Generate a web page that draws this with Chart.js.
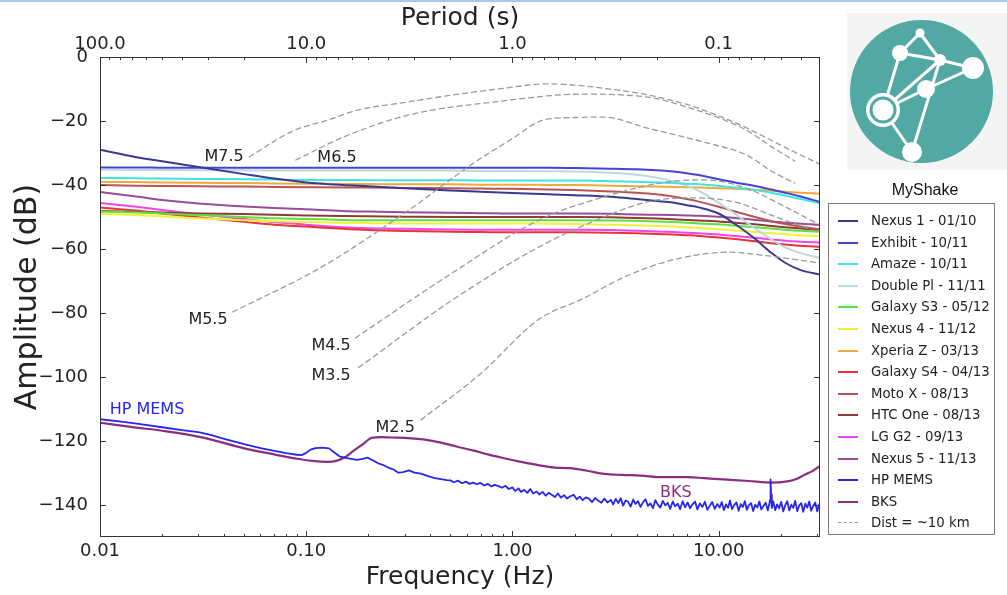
<!DOCTYPE html>
<html>
<head>
<meta charset="utf-8">
<script src="https://cdn.jsdelivr.net/npm/chart.js@4.4.1/dist/chart.umd.min.js"></script>
<style>
html,body{margin:0;padding:0;background:#fff;}
#wrap{position:relative;width:1007px;height:595px;overflow:hidden;background:#fff;}
#topbar{position:absolute;left:0;top:0;width:1007px;height:2px;background:#a8c8ea;}
#chart{position:absolute;left:0;top:0;}
#legend{position:absolute;left:828px;top:203px;width:167px;height:332px;border:1px solid #7a7a7a;box-sizing:border-box;padding-top:6px;font-family:"DejaVu Sans";font-size:13.3px;color:#222;background:#fff;}
.row{height:21.6px;line-height:21.6px;white-space:nowrap;position:relative;}
.row i{position:absolute;left:9px;top:10px;width:20px;height:0;border-top:2px solid;}
.row span{position:absolute;left:42px;top:0;}
#logo{position:absolute;left:846px;top:12px;}
#brand{position:absolute;left:875px;top:181px;width:100px;text-align:center;font-family:"Liberation Sans",Arial,sans-serif;font-size:16px;color:#111;}
</style>
</head>
<body>
<div id="wrap">
  <div id="topbar"></div>
  <canvas id="chart" width="1007" height="595"></canvas>
  <svg id="logo" width="161" height="160" viewBox="846 12 161 160">
    <rect x="847" y="13" width="160" height="157" fill="#f3f4f4"/>
    <circle cx="921.5" cy="91.5" r="71.5" fill="#52a9a3"/>
    <g stroke="#fff" stroke-width="3" fill="none">
      <line x1="920" y1="33" x2="900" y2="53"/>
      <line x1="920" y1="33" x2="940" y2="60"/>
      <line x1="900" y1="53" x2="940" y2="60"/>
      <line x1="940" y1="60" x2="973" y2="68"/>
      <line x1="900" y1="53" x2="883" y2="110"/>
      <line x1="940" y1="60" x2="883" y2="110"/>
      <line x1="940" y1="60" x2="912" y2="152"/>
      <line x1="926" y1="89" x2="973" y2="68"/>
      <line x1="926" y1="89" x2="883" y2="110"/>
      <line x1="883" y1="110" x2="912" y2="152"/>
    </g>
    <g fill="#fff">
      <circle cx="920" cy="33" r="4.5"/>
      <circle cx="900" cy="53" r="8"/>
      <circle cx="940" cy="60" r="6"/>
      <circle cx="973" cy="68" r="11"/>
      <circle cx="926" cy="89" r="9"/>
      <circle cx="912" cy="152" r="10"/>
      <circle cx="883" cy="110" r="17"/>
    </g>
    <circle cx="883" cy="110" r="13.5" fill="#52a9a3"/>
    <circle cx="883" cy="110" r="10.5" fill="#fff"/>
  </svg>
  <div id="brand">MyShake</div>
  <div id="legend"></div>
</div>
<script>
// axis ticks
var freqTicks = [0.01, 0.1, 1, 10];
var ampTicks = [0, -20, -40, -60, -80, -100, -120, -140];

// common frequency grid of the phone curves (Hz)
var phoneFreq = [0.01, 0.015, 0.02, 0.03, 0.05, 0.07, 0.1, 0.15, 0.2, 0.3, 0.5, 0.7, 1, 1.5, 2, 3, 4, 5, 6, 7, 8, 10, 12, 15, 18, 21, 25, 31];

var nexus1   = [-29.0, -31.3, -32.6, -34.4, -36.6, -38.0, -39.2, -40.0, -40.4, -41.0, -41.7, -42.1, -42.5, -42.9, -43.2, -43.7, -44.4, -45.0, -45.5, -46.3, -47.0, -48.9, -52.2, -56.8, -61.2, -64.3, -66.6, -68.0];
var exhibit  = [-34.5, -34.5, -34.6, -34.6, -34.6, -34.6, -34.6, -34.6, -34.6, -34.6, -34.6, -34.6, -34.6, -34.6, -34.7, -34.9, -35.1, -35.4, -35.8, -36.3, -36.9, -38.2, -39.2, -40.3, -41.4, -42.4, -43.6, -45.3];
var amaze    = [-37.8, -37.9, -38.0, -38.1, -38.2, -38.3, -38.4, -38.4, -38.5, -38.5, -38.5, -38.6, -38.6, -38.6, -38.6, -38.8, -39.0, -39.2, -39.4, -39.6, -39.8, -40.3, -40.8, -41.6, -42.4, -43.3, -44.4, -45.7];
var doublePl = [-35.2, -35.3, -35.3, -35.4, -35.4, -35.5, -35.5, -35.5, -35.5, -35.5, -35.5, -35.6, -35.6, -35.7, -35.8, -36.2, -36.8, -37.7, -38.8, -40.2, -41.8, -45.6, -49.0, -53.6, -57.0, -59.5, -61.3, -62.8];
var galaxyS3 = [-48.3, -48.6, -48.9, -49.4, -50.0, -50.4, -50.6, -50.9, -51.0, -51.0, -51.0, -51.0, -51.0, -51.0, -51.0, -51.1, -51.2, -51.4, -51.6, -51.8, -52.0, -52.3, -52.7, -53.2, -53.6, -54.0, -54.3, -54.6];
var nexus4   = [-49.0, -49.4, -49.8, -50.4, -51.0, -51.3, -51.6, -51.8, -51.9, -52.0, -52.0, -52.0, -52.0, -52.1, -52.2, -52.4, -52.6, -52.8, -53.0, -53.2, -53.4, -53.8, -54.2, -54.7, -55.1, -55.4, -55.7, -56.0];
var xperiaZ  = [-39.0, -39.1, -39.2, -39.3, -39.4, -39.5, -39.6, -39.7, -39.7, -39.8, -39.8, -39.9, -39.9, -40.0, -40.0, -40.2, -40.4, -40.5, -40.6, -40.7, -40.8, -41.0, -41.2, -41.5, -41.8, -42.1, -42.4, -42.7];
var galaxyS4 = [-47.0, -48.0, -48.9, -50.1, -51.5, -52.4, -53.0, -53.7, -54.1, -54.4, -54.6, -54.7, -54.8, -54.8, -54.8, -54.9, -55.1, -55.3, -55.5, -55.7, -55.9, -56.4, -56.9, -57.6, -58.2, -58.6, -59.0, -59.3];
var motoX    = [-40.0, -40.2, -40.3, -40.4, -40.5, -40.6, -40.7, -40.8, -40.8, -40.9, -41.0, -41.1, -41.2, -41.4, -41.6, -42.0, -42.4, -42.9, -43.6, -44.4, -45.2, -46.8, -48.3, -50.0, -51.3, -52.2, -53.0, -53.9];
var htcOne   = [-48.1, -48.4, -48.6, -48.9, -49.1, -49.3, -49.5, -49.7, -49.8, -49.9, -50.0, -50.0, -50.0, -50.0, -50.0, -50.1, -50.3, -50.5, -50.7, -50.9, -51.1, -51.4, -51.8, -52.3, -52.8, -53.2, -53.6, -54.0];
var lgG2     = [-45.6, -46.8, -47.8, -49.1, -50.6, -51.6, -52.4, -53.2, -53.5, -53.7, -53.9, -54.0, -54.0, -54.0, -54.0, -54.1, -54.3, -54.5, -54.7, -54.9, -55.1, -55.5, -55.9, -56.5, -57.0, -57.4, -57.7, -58.0];
var nexus5   = [-42.2, -43.6, -44.7, -45.8, -46.7, -47.2, -47.6, -48.1, -48.3, -48.5, -48.7, -48.8, -48.9, -48.9, -48.9, -49.0, -49.2, -49.3, -49.4, -49.5, -49.6, -49.9, -50.3, -50.9, -51.4, -51.8, -52.1, -52.5];

// HP MEMS self noise
var memsFreq = [0.01, 0.013, 0.016, 0.02, 0.025, 0.03, 0.034, 0.04, 0.05, 0.06, 0.07, 0.08, 0.09, 0.095, 0.1, 0.105, 0.111, 0.12, 0.129, 0.137,
  0.146, 0.16, 0.176, 0.188, 0.198, 0.21, 0.222, 0.236, 0.25, 0.265, 0.28, 0.295, 0.315, 0.335, 0.36, 0.39, 0.42, 0.45, 0.48, 0.5,
  0.52, 0.545, 0.57, 0.595, 0.62, 0.645, 0.67, 0.7, 0.73, 0.76, 0.79, 0.82, 0.855, 0.89, 0.925, 0.96, 1.0,
  1.03, 1.07, 1.1, 1.14, 1.18, 1.22, 1.26, 1.31, 1.35, 1.4, 1.45, 1.5, 1.55, 1.61, 1.66, 1.72, 1.78, 1.84, 1.91, 1.98,
  2.05, 2.12, 2.19, 2.27, 2.35, 2.43, 2.52, 2.61, 2.7, 2.79, 2.89, 3.0,
  3.08, 3.17, 3.26, 3.35, 3.44, 3.54, 3.64, 3.74, 3.85, 3.95, 4.06, 4.18, 4.3, 4.42, 4.54, 4.67, 4.8, 4.93, 5.07, 5.21,
  5.36, 5.51, 5.66, 5.82, 5.99, 6.15, 6.33, 6.5, 6.69, 6.87, 7.07, 7.26, 7.47, 7.68, 7.89, 8.11, 8.34, 8.57, 8.81, 9.06, 9.31, 9.57, 9.84, 10.1,
  10.35, 10.6, 10.85, 11.1, 11.35, 11.6, 11.9, 12.2, 12.5, 12.8, 13.1, 13.4, 13.7, 14.0, 14.35, 14.7, 15.05, 15.4, 15.75, 16.1,
  16.5, 16.9, 17.3, 17.6, 17.75, 17.85, 17.95, 18.1, 18.4, 18.8, 19.2, 19.65, 20.1, 20.55, 21.0, 21.5, 22.0, 22.5, 23.0, 23.5,
  24.05, 24.6, 25.15, 25.7, 26.3, 26.9, 27.5, 28.1, 28.75, 29.4, 30.05, 30.7, 31];
var memsAmp = [-113.2, -114.0, -114.8, -115.7, -116.6, -117.2, -118.0, -119.3, -121.0, -122.2, -123.1, -123.8, -124.3, -124.4, -123.7, -122.7, -122.2, -122.1, -122.3, -123.6,
  -124.9, -125.4, -125.9, -125.6, -125.2, -126.0, -126.9, -127.5, -128.3, -128.9, -129.9, -129.7, -129.2, -129.9, -130.2, -131.0, -131.6, -131.9, -132.2, -132.3,
  -132.9, -132.4, -133.2, -132.7, -133.4, -133.0, -133.5, -133.1, -133.9, -133.4, -134.2, -133.7, -134.1, -134.6, -134.0, -135.0, -134.5,
  -135.6, -134.8, -135.9, -135.3, -136.2, -135.0, -136.4, -135.8, -136.7, -135.9, -137.1, -136.2, -136.8, -137.5, -136.4, -137.7, -136.9, -138.0, -137.3, -136.8,
  -138.2, -137.4, -138.5, -137.6, -138.0, -139.1, -137.8, -138.7, -139.3, -138.0, -139.2, -138.4,
  -139.8, -138.1, -139.4, -137.9, -140.2, -138.6, -139.0, -140.5, -138.3, -139.7, -138.8, -140.6, -139.1, -138.2, -140.3, -139.5, -141.0, -138.5, -139.9, -140.8,
  -138.7, -140.1, -139.3, -141.2, -138.9, -140.4, -139.6, -141.3, -138.8, -140.7, -139.2, -141.0, -139.8, -138.9, -141.4, -139.5, -140.6, -139.0, -141.5, -140.2, -139.1, -141.2, -139.7, -140.8,
  -139.1, -141.6, -139.8, -140.9, -138.6, -141.3, -140.0, -139.2, -141.8, -139.7, -140.6, -138.8, -141.5, -140.1, -139.4, -141.9, -139.9, -140.8, -138.9, -141.4,
  -140.3, -139.3, -141.7, -139.6, -138.4, -132.0, -136.8, -140.9, -138.9, -141.6, -139.8, -141.0, -139.0, -142.0, -140.2, -138.8, -141.7, -139.9, -140.9, -138.7,
  -141.9, -140.1, -139.4, -142.1, -139.6, -140.8, -138.9, -141.8, -140.3, -139.2, -142.0, -139.8, -141.2];

// BKS station noise
var bksFreq = [0.01, 0.015, 0.02, 0.032, 0.05, 0.07, 0.094, 0.11, 0.126, 0.14, 0.155, 0.17, 0.19, 0.207, 0.23, 0.26, 0.3, 0.39, 0.45, 0.54, 0.65, 0.76, 0.9, 1.1, 1.35, 1.6, 1.9, 2.3, 2.8, 3.4, 4.2, 5.3, 7.1, 8.5, 10.5, 14, 18, 21.5, 24, 26, 28.5, 31];
var bksAmp = [-114.3, -115.8, -116.8, -119.0, -122.3, -124.2, -125.7, -126.3, -126.5, -126.2, -125.0, -123.0, -120.8, -119.0, -118.8, -118.9, -119.0, -119.7, -120.5, -121.8, -123.0, -124.2, -125.3, -126.5, -127.6, -128.3, -128.5, -129.3, -130.3, -130.6, -130.8, -131.3, -131.3, -131.6, -132.0, -132.5, -133.0, -132.6, -131.8, -130.6, -129.4, -127.8];

// earthquake spectra at ~10 km
var m75Freq = [0.053, 0.085, 0.13, 0.177, 0.3, 0.51, 0.9, 1.48, 2.2, 2.78, 4.0, 4.97, 7, 9.3, 13, 16.6, 23, 31];
var m75Amp  = [-31.2, -23.3, -19.5, -16.6, -14.2, -11.9, -9.8, -8.4, -9.0, -9.8, -11.2, -12.4, -14.8, -17.6, -21.5, -24.9, -29.5, -33.5];
var m65Freq = [0.089, 0.153, 0.315, 0.83, 2.2, 3.5, 5, 7.3, 10, 13.6, 18, 23.4];
var m65Amp  = [-32.2, -24.9, -18.1, -14.0, -11.6, -11.9, -13.0, -16.0, -19.0, -22.8, -28.0, -32.5];
var m55Freq = [0.044, 0.119, 0.315, 0.65, 1.0, 1.41, 2.0, 2.78, 4.5, 8.5, 13.6, 18.4, 23.4];
var m55Amp  = [-79.7, -65.6, -47.8, -33.1, -25.5, -19.7, -18.9, -18.8, -22.2, -26.6, -30.6, -36.0, -39.4];
var m45Freq = [0.173, 0.51, 1.34, 2.78, 5.7, 8.5, 13.6, 21, 31];
var m45Amp  = [-87.8, -67.5, -51.0, -43.7, -39.0, -38.4, -41.0, -46.8, -52.5];
var m35Freq = [0.18, 0.51, 1.34, 2.78, 4.5, 7.3, 11.9, 19, 31];
var m35Amp  = [-97.0, -76.0, -59.4, -50.0, -45.3, -44.0, -45.3, -50.0, -55.0];
var m25Freq = [0.36, 0.7, 1.34, 2.2, 3.5, 6, 11.3, 16.6, 31];
var m25Amp  = [-113.4, -99.0, -82.0, -75.5, -68.7, -63.4, -61.0, -62.0, -64.4];

function pairs(fs, vs) {
  var out = [];
  for (var i = 0; i < fs.length; i++) out.push({x: fs[i], y: vs[i]});
  return out;
}

var phones = [
  ['Nexus 1 - 01/10', nexus1, '#3a3a90'],
  ['Exhibit - 10/11', exhibit, '#4444d4'],
  ['Amaze - 10/11', amaze, '#3fe3e3'],
  ['Double Pl - 11/11', doublePl, '#bcd8e2'],
  ['Galaxy S3 - 05/12', galaxyS3, '#5ee03a'],
  ['Nexus 4 - 11/12', nexus4, '#f0f03c'],
  ['Xperia Z - 03/13', xperiaZ, '#f2a93c'],
  ['Galaxy S4 - 04/13', galaxyS4, '#e83434'],
  ['Moto X - 08/13', motoX, '#b85454'],
  ['HTC One - 08/13', htcOne, '#8c3c3c'],
  ['LG G2 - 09/13', lgG2, '#ee46ee'],
  ['Nexus 5 - 11/13', nexus5, '#9a4c98']
];
var memsColor = '#2626ec', bksColor = '#8c2e80', quakeColor = '#9a9a9a';

var datasets = [];
var quakes = [[m75Freq, m75Amp], [m65Freq, m65Amp], [m55Freq, m55Amp], [m45Freq, m45Amp], [m35Freq, m35Amp], [m25Freq, m25Amp]];
quakes.forEach(function(q) {
  datasets.push({data: pairs(q[0], q[1]), borderColor: quakeColor, borderWidth: 1.3, borderDash: [5, 4], cubicInterpolationMode: 'monotone'});
});
phones.forEach(function(p) {
  datasets.push({label: p[0], data: pairs(phoneFreq, p[1]), borderColor: p[2], borderWidth: 2, cubicInterpolationMode: 'monotone'});
});
datasets.push({label: 'HP MEMS', data: pairs(memsFreq, memsAmp), borderColor: memsColor, borderWidth: 1.8, tension: 0});
datasets.push({label: 'BKS', data: pairs(bksFreq, bksAmp), borderColor: bksColor, borderWidth: 2.2, cubicInterpolationMode: 'monotone'});

// text placed next to the curves: [text, freq, dB, colour]
var curveLabels = [
  ['M7.5', 0.040, -31.3, '#222'],
  ['M6.5', 0.141, -31.6, '#222'],
  ['M5.5', 0.0334, -82.2, '#222'],
  ['M4.5', 0.132, -90.2, '#222'],
  ['M3.5', 0.132, -99.6, '#222'],
  ['M2.5', 0.27, -115.9, '#222'],
  ['HP MEMS', 0.0169, -110.3, memsColor],
  ['BKS', 6.2, -136.3, bksColor]
];

var tickFont = {family: 'DejaVu Sans', size: 18};
var titleFont = {family: 'DejaVu Sans', size: 25};

var framePlugin = {
  id: 'frame',
  afterDatasetsDraw: function(chart) {
    var ctx = chart.ctx, a = chart.chartArea, sx = chart.scales.x, sy = chart.scales.y;
    ctx.save();
    ctx.strokeStyle = '#333';
    ctx.lineWidth = 1;
    ctx.beginPath();
    var e, k, f, px, py, len;
    for (e = -2; e <= 1; e++) for (k = 1; k <= 9; k++) {
      f = k * Math.pow(10, e);
      if (f < 0.0099 || f > 31) continue;
      px = Math.round(sx.getPixelForValue(f)) + 0.5;
      len = k == 1 ? 6 : 3;
      ctx.moveTo(px, a.bottom); ctx.lineTo(px, a.bottom - len);
    }
    // period ticks on top
    for (e = -2; e <= 2; e++) for (k = 1; k <= 9; k++) {
      f = 1 / (k * Math.pow(10, e));
      if (f < 0.0099 || f > 31) continue;
      px = Math.round(sx.getPixelForValue(f)) + 0.5;
      len = k == 1 ? 6 : 3;
      ctx.moveTo(px, a.top); ctx.lineTo(px, a.top + len);
    }
    ampTicks.forEach(function(v) {
      py = Math.round(sy.getPixelForValue(v)) + 0.5;
      ctx.moveTo(a.left, py); ctx.lineTo(a.left + 6, py);
      ctx.moveTo(a.right, py); ctx.lineTo(a.right - 6, py);
    });
    ctx.stroke();
    ctx.strokeRect(a.left + 0.5, a.top + 0.5, a.right - a.left - 1, a.bottom - a.top - 1);

    ctx.font = '16px "DejaVu Sans"';
    ctx.textAlign = 'center';
    ctx.textBaseline = 'middle';
    curveLabels.forEach(function(l) {
      ctx.fillStyle = l[3];
      ctx.fillText(l[0], sx.getPixelForValue(l[1]), sy.getPixelForValue(l[2]));
    });
    ctx.restore();
  }
};

new Chart(document.getElementById('chart'), {
  type: 'line',
  data: {datasets: datasets},
  options: {
    responsive: false,
    animation: false,
    events: [],
    layout: {padding: {left: 0, right: 187, top: 0, bottom: 0}},
    elements: {point: {radius: 0}, line: {borderCapStyle: 'round', borderJoinStyle: 'round'}},
    plugins: {legend: {display: false}, tooltip: {enabled: false}},
    scales: {
      x: {
        type: 'logarithmic', position: 'bottom', min: 0.01, max: 31,
        grid: {display: false, drawTicks: false}, border: {display: false},
        afterBuildTicks: function(s) { s.ticks = freqTicks.map(function(v) { return {value: v}; }); },
        afterFit: function(s) { s.height = 58; },
        ticks: {autoSkip: false, maxRotation: 0, padding: 4, color: '#222', font: tickFont,
          callback: function(v) { return Number(v).toFixed(2); }},
        title: {display: true, text: 'Frequency (Hz)', color: '#222', font: titleFont, padding: {top: 0, bottom: 3}}
      },
      x2: {
        type: 'logarithmic', position: 'top', min: 0.01, max: 31,
        grid: {display: false, drawTicks: false}, border: {display: false},
        afterBuildTicks: function(s) { s.ticks = freqTicks.map(function(v) { return {value: v}; }); },
        afterFit: function(s) { s.height = 57; },
        ticks: {autoSkip: false, maxRotation: 0, padding: 2, color: '#222', font: tickFont,
          callback: function(v) { return (1 / Number(v)).toFixed(1); }},
        title: {display: true, text: 'Period (s)', color: '#222', font: titleFont, padding: {top: 3, bottom: 0}}
      },
      y: {
        type: 'linear', min: -150, max: 0,
        grid: {display: false, drawTicks: false}, border: {display: false},
        afterBuildTicks: function(s) { s.ticks = ampTicks.map(function(v) { return {value: v}; }); },
        afterFit: function(s) { s.width = 100; },
        ticks: {padding: 12, color: '#222', font: tickFont,
          callback: function(v) { return v == 0 ? '0' : '\u2212' + Math.abs(v); }},
        title: {display: true, text: 'Amplitude (dB)', color: '#222', font: {family: 'DejaVu Sans', size: 30}, padding: {top: 10, bottom: 0}}
      }
    }
  },
  plugins: [framePlugin]
});

// legend box
var legendRows = phones.map(function(p) { return [p[0], p[2], 'solid']; });
legendRows.push(['HP MEMS', memsColor, 'solid']);
legendRows.push(['BKS', bksColor, 'solid']);
legendRows.push(['Dist = ~10 km', quakeColor, 'dashed']);
var box = document.getElementById('legend');
legendRows.forEach(function(r) {
  var row = document.createElement('div');
  row.className = 'row';
  var sample = document.createElement('i');
  sample.style.borderTopColor = r[1];
  sample.style.borderTopStyle = r[2];
  if (r[2] == 'dashed') { sample.style.borderTopWidth = '1.5px'; }
  var txt = document.createElement('span');
  txt.textContent = r[0];
  row.appendChild(sample);
  row.appendChild(txt);
  box.appendChild(row);
});
</script>
</body>
</html>
